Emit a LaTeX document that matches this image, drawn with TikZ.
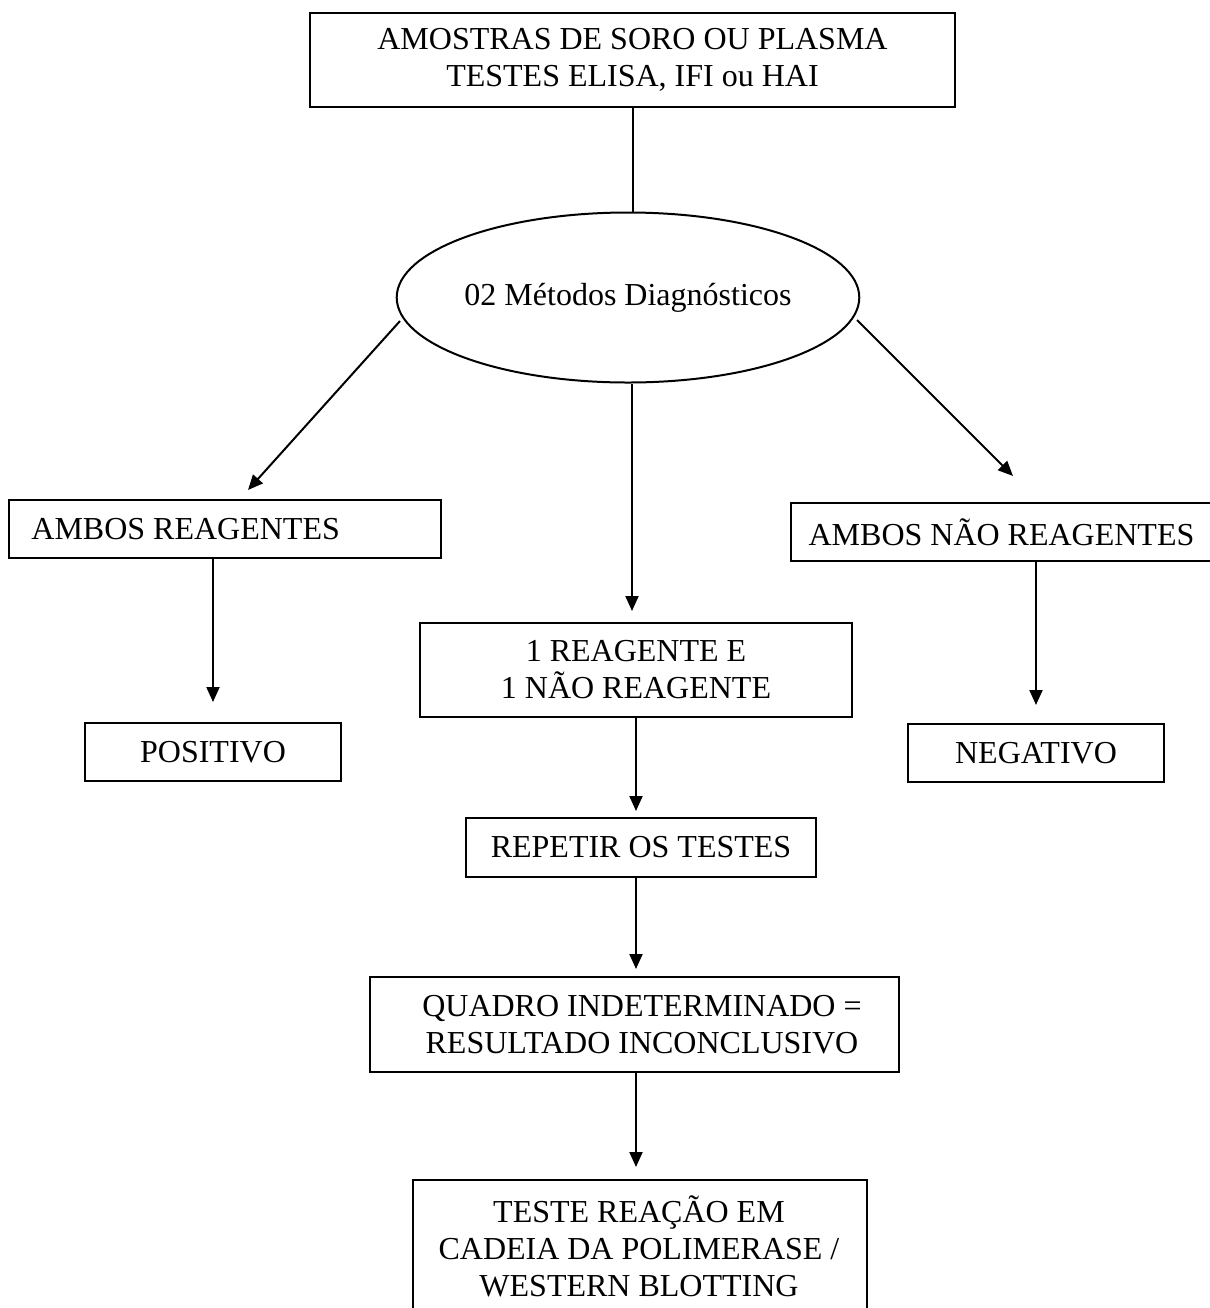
\documentclass[tikz,border=0pt]{standalone}
\usepackage{fontspec}
\setmainfont{Liberation Serif}
\usetikzlibrary{arrows.meta,shapes.geometric}
\begin{document}
\begin{tikzpicture}[x=0.5pt,y=-0.5pt,
  box/.style={draw, line width=1pt, inner sep=0pt, align=center, font={\fontsize{16}{18.5}\selectfont}},
  txt/.style={inner sep=0pt, align=center, font={\fontsize{16}{18.5}\selectfont}},
  arr/.style={line width=1pt, -{Triangle[length=7.5pt,width=6.5pt]}},
  ln/.style={line width=1pt}]
\useasboundingbox (0,0) rectangle (1210,1308);
\clip (0,0) rectangle (1210,1308);

% boxes
\node[box, minimum width=322.5pt, minimum height=47pt] (top) at (632.5,60)
  {AMOSTRAS DE SORO OU PLASMA\\TESTES ELISA, IFI ou HAI};
\node[ellipse, draw, line width=1pt, inner sep=0pt, minimum width=230pt, minimum height=85pt,
  font={\fontsize{16}{18.5}\selectfont}] (ell) at (628,297.5) {02 Métodos Diagnósticos};
\node[box, minimum width=216pt, minimum height=29pt] (ambos) at (225,529) {};
\node[txt, anchor=west] (ambost) at (31,529) {AMBOS REAGENTES};
\node[box, minimum width=128pt, minimum height=29pt] (pos) at (213,752) {POSITIVO};
\node[box, minimum width=216pt, minimum height=47pt] (mid) at (636,670) {1 REAGENTE E\\1 NÃO REAGENTE};
\node[box, minimum width=210.5pt, minimum height=29pt] (ambosn) at (1001.5,532) {AMBOS NÃO REAGENTES};
\node[box, minimum width=128pt, minimum height=29pt] (neg) at (1036,753) {NEGATIVO};
\node[box, minimum width=175pt, minimum height=29.5pt] (rep) at (641,847.5) {REPETIR OS TESTES};
\node[box, minimum width=264.5pt, minimum height=47.5pt] (quad) at (634.5,1024.5) {};
\node[txt] (quadt) at (642,1025) {QUADRO INDETERMINADO =\\RESULTADO INCONCLUSIVO};
\node[box, minimum width=227pt, minimum height=75pt] (fin) at (640,1255) {};
\node[txt] (fint) at (639,1246) {TESTE REAÇÃO EM\\CADEIA DA POLIMERASE /\\WESTERN BLOTTING};

% connector ends
\coordinate (eL) at (400,321);
\coordinate (tL) at (248,490);
\coordinate (eR) at (857,320);
\coordinate (tR) at (1013,476);
\coordinate (tM) at (632,611);

% connectors
\draw[ln] (top.south) -- (top.south |- ell.north);
\draw[arr] (eL) -- (tL);
\draw[arr] (eR) -- (tR);
\draw[arr] (ell.south -| tM) -- (tM);
\draw[arr] (pos.north |- ambos.south) -- ([yshift=10pt]pos.north);
\draw[arr] (neg.north |- ambosn.south) -- ([yshift=9pt]neg.north);
\draw[arr] (mid.south) -- ([yshift=3pt]mid.south |- rep.north);
\draw[arr] (mid.south |- rep.south) -- ([yshift=3.5pt]mid.south |- quad.north);
\draw[arr] (mid.south |- quad.south) -- ([yshift=6pt]mid.south |- fin.north);
\end{tikzpicture}
\end{document}
